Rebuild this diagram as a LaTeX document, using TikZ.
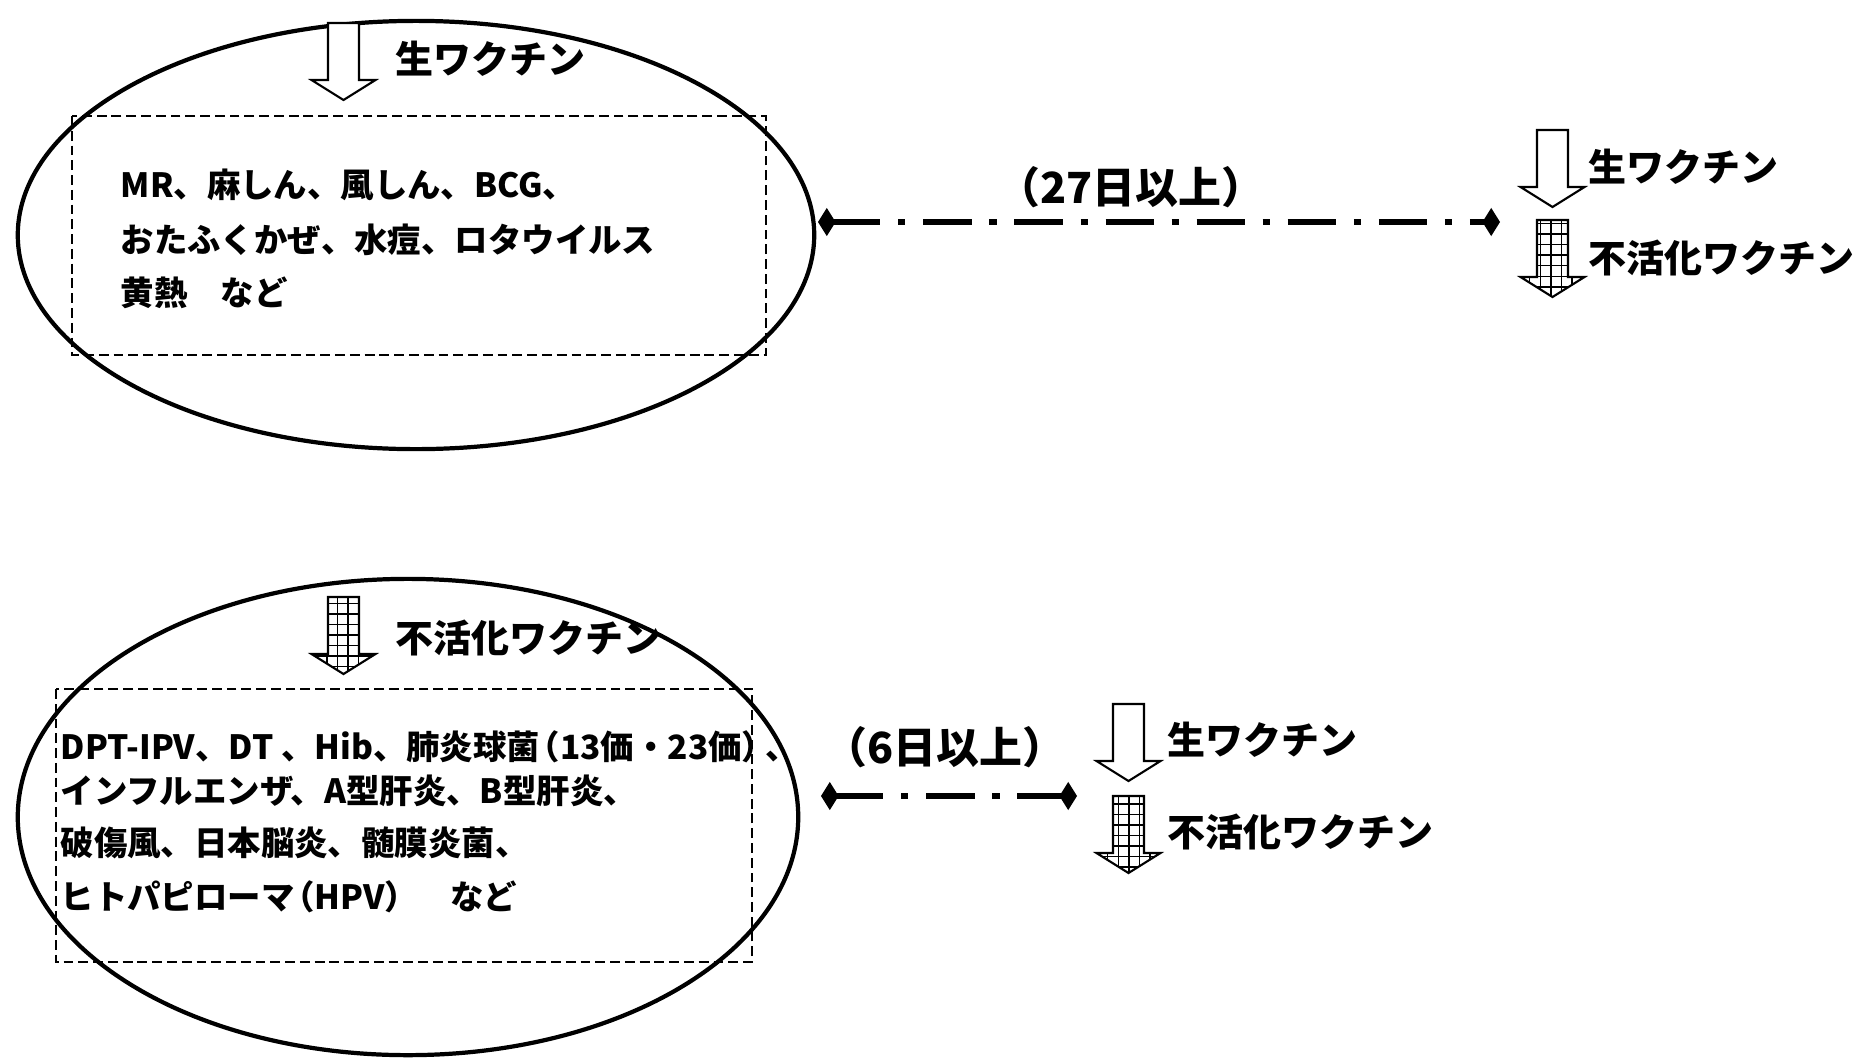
\documentclass[tikz,border=0pt]{standalone}
\usepackage{fontspec}
\setmainfont{Noto Sans CJK JP}
\usetikzlibrary{shapes.geometric,arrows.meta,patterns}
\begin{document}
\begin{tikzpicture}[x=0.01cm,y=-0.01cm,
	vaxlabel/.style={anchor=west,inner sep=0pt,font=\fontsize{10.8pt}{13pt}\selectfont\bfseries},
	boxtext/.style={anchor=west,inner sep=0pt,font=\fontsize{9.5pt}{12pt}\selectfont\bfseries},
	gaptext/.style={inner sep=0pt,font=\fontsize{12.2pt}{14pt}\selectfont\bfseries},
	group/.style={draw,ellipse,line width=1.2pt,inner sep=0pt},
	listbox/.style={line width=0.4pt,dash pattern=on 2.8pt off 1.4pt},
	interval/.style={line width=1.6pt,dash pattern=on 13.7pt off 5.1pt on 2pt off 5.1pt,arrows={Diamond[length=5pt,width=8pt]-Diamond[length=5pt,width=8pt]}},
	pics/live/.style={code={\draw[line width=0.6pt,fill=white] (-15.5,0) -- (15.5,0) -- (15.5,57) -- (32,57) -- (0,77) -- (-32,57) -- (-15.5,57) -- cycle;}},
	pics/inact/.style={code={\draw[line width=0.6pt,pattern=grid] (-15.5,0) -- (15.5,0) -- (15.5,57) -- (32,57) -- (0,77) -- (-32,57) -- (-15.5,57) -- cycle;}}
]
	\useasboundingbox (0,0) rectangle (1870,1057);
	\node[group,minimum width=7.96cm,minimum height=4.28cm] (liveset) at (416,235) {};
	\draw[listbox] (72,116) rectangle (766,355);
	\pic at (343.5,23) {live};
	\node[vaxlabel] (livehead) at (395,59) {生ワクチン};
	\node[boxtext] (live1) at (120,185) {MR、麻しん、風しん、BCG、};
	\node[boxtext] (live2) at (120,240) {おたふくかぜ、水痘、ロタウイルス};
	\node[boxtext] (live3) at (120,293) {黄熱　など};
	\coordinate (livefrom) at (818,222);
	\coordinate (liveto) at (1500,222);
	\draw[interval] (livefrom) -- (liveto);
	\node[gaptext] (livegap) at (1131,187) {（27日以上）};
	\pic at (1552.5,130) {live};
	\node[vaxlabel] (livenext1) at (1588,167) {生ワクチン};
	\pic at (1552.5,220) {inact};
	\node[vaxlabel] (livenext2) at (1588,258) {不活化ワクチン};

	\node[group,minimum width=7.80cm,minimum height=4.76cm] (inactset) at (408,817) {};
	\draw[listbox] (56,689) rectangle (752,962);
	\pic at (343.5,597) {inact};
	\node[vaxlabel] (inacthead) at (395,638) {不活化ワクチン};
	\node[boxtext] (inact1) at (60,747) {DPT-IPV、DT 、Hib、肺炎球菌\kern-0.4em（13価・23価）\kern-0.3em、};
	\node[boxtext] (inact2) at (60,791) {インフルエンザ、A型肝炎、B型肝炎、};
	\node[boxtext] (inact3) at (60,843) {破傷風、日本脳炎、髄膜炎菌、};
	\node[boxtext] (inact4) at (60,897) {ヒトパピローマ\kern-0.4em（HPV）\hspace{0.95em}など};
	\coordinate (inactfrom) at (821,796);
	\coordinate (inactto) at (1077,796);
	\draw[interval] (inactfrom) -- (inactto);
	\node[gaptext] (inactgap) at (945,747) {（6日以上）};
	\pic at (1128.5,704) {live};
	\node[vaxlabel] (inactnext1) at (1167,740) {生ワクチン};
	\pic at (1128.5,796) {inact};
	\node[vaxlabel] (inactnext2) at (1167,832) {不活化ワクチン};
\end{tikzpicture}
\end{document}
